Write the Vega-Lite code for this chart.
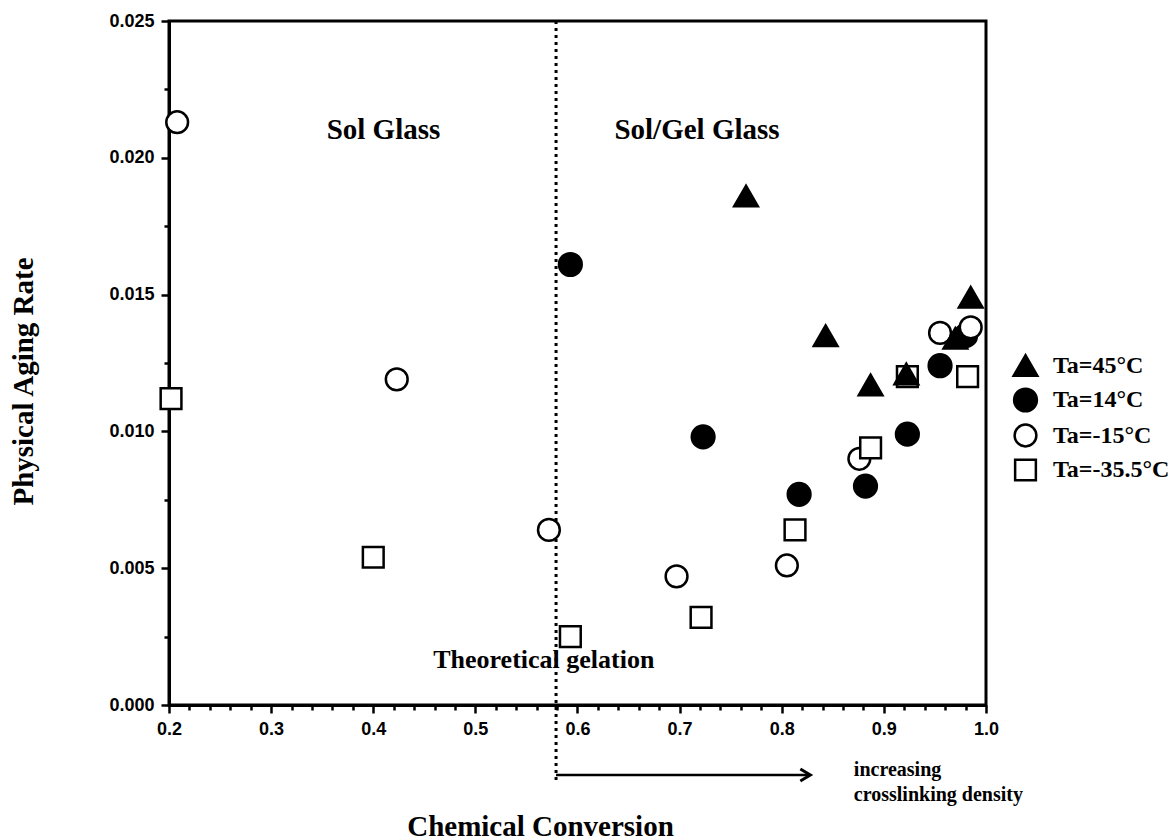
{
  "$schema": "https://vega.github.io/schema/vega-lite/v6.json",
  "width": 817,
  "height": 684,
  "autosize": {"type": "none"},
  "padding": {"left": 169, "top": 21, "right": 183, "bottom": 135},
  "background": "white",
  "config": {
    "view": {"stroke": "black", "strokeWidth": 3},
    "axis": {
      "grid": false,
      "domainColor": "black",
      "domainWidth": 3,
      "tickColor": "black",
      "tickWidth": 2.5,
      "labelColor": "black",
      "titleColor": "black",
      "labelFont": "Liberation Sans",
      "labelFontWeight": "bold",
      "labelFontSize": 18,
      "titleFont": "Liberation Serif",
      "titleFontWeight": "bold",
      "titleFontSize": 29
    }
  },
  "resolve": {"axis": {"x": "independent", "y": "independent"}},
  "datasets": {
    "measurements": [
      {"conversion": 0.593, "rate": 0.0161, "series": "Ta=14°C"},
      {"conversion": 0.723, "rate": 0.0098, "series": "Ta=14°C"},
      {"conversion": 0.817, "rate": 0.0077, "series": "Ta=14°C"},
      {"conversion": 0.882, "rate": 0.0080, "series": "Ta=14°C"},
      {"conversion": 0.923, "rate": 0.0099, "series": "Ta=14°C"},
      {"conversion": 0.955, "rate": 0.0124, "series": "Ta=14°C"},
      {"conversion": 0.980, "rate": 0.0135, "series": "Ta=14°C"},
      {"conversion": 0.208, "rate": 0.0213, "series": "Ta=-15°C"},
      {"conversion": 0.423, "rate": 0.0119, "series": "Ta=-15°C"},
      {"conversion": 0.572, "rate": 0.0064, "series": "Ta=-15°C"},
      {"conversion": 0.697, "rate": 0.0047, "series": "Ta=-15°C"},
      {"conversion": 0.805, "rate": 0.0051, "series": "Ta=-15°C"},
      {"conversion": 0.876, "rate": 0.0090, "series": "Ta=-15°C"},
      {"conversion": 0.955, "rate": 0.0136, "series": "Ta=-15°C"},
      {"conversion": 0.985, "rate": 0.0138, "series": "Ta=-15°C"},
      {"conversion": 0.202, "rate": 0.0112, "series": "Ta=-35.5°C"},
      {"conversion": 0.400, "rate": 0.0054, "series": "Ta=-35.5°C"},
      {"conversion": 0.593, "rate": 0.0025, "series": "Ta=-35.5°C"},
      {"conversion": 0.721, "rate": 0.0032, "series": "Ta=-35.5°C"},
      {"conversion": 0.813, "rate": 0.0064, "series": "Ta=-35.5°C"},
      {"conversion": 0.887, "rate": 0.0094, "series": "Ta=-35.5°C"},
      {"conversion": 0.923, "rate": 0.0120, "series": "Ta=-35.5°C"},
      {"conversion": 0.982, "rate": 0.0120, "series": "Ta=-35.5°C"},
      {"conversion": 0.765, "rate": 0.0186, "series": "Ta=45°C"},
      {"conversion": 0.843, "rate": 0.0135, "series": "Ta=45°C"},
      {"conversion": 0.887, "rate": 0.0117, "series": "Ta=45°C"},
      {"conversion": 0.922, "rate": 0.0121, "series": "Ta=45°C"},
      {"conversion": 0.970, "rate": 0.0134, "series": "Ta=45°C"},
      {"conversion": 0.985, "rate": 0.0149, "series": "Ta=45°C"}
    ],
    "gelPoint": [
      {"conversion": 0.579, "top": 0.025, "bottom": -0.0028}
    ],
    "densityArrow": [
      {"start": 0.579, "end": 0.826, "level": -0.00256}
    ],
    "arrowTip": [
      {"conversion": 0.828, "level": -0.00256}
    ],
    "regionLabels": [
      {"label": "Sol Glass", "conversion": 0.41, "rate": 0.0210},
      {"label": "Sol/Gel Glass", "conversion": 0.717, "rate": 0.0210}
    ],
    "gelLabel": [
      {"label": "Theoretical gelation", "conversion": 0.567, "rate": 0.00135}
    ],
    "densityLabel": [
      {"label": "increasing", "conversion": 0.8706, "rate": -0.0026},
      {"label": "crosslinking density", "conversion": 0.8706, "rate": -0.0035}
    ]
  },
  "layer": [
    {
      "data": {"name": "gelPoint"},
      "mark": {"type": "rule", "color": "black", "strokeWidth": 3, "strokeDash": [3, 4]},
      "encoding": {
        "x": {"field": "conversion", "type": "quantitative", "scale": {"domain": [0.2, 1.0], "nice": false, "zero": false}, "axis": null},
        "y": {"field": "top", "type": "quantitative", "scale": {"domain": [0, 0.025], "nice": false, "zero": false}, "axis": null},
        "y2": {"field": "bottom"}
      }
    },
    {
      "data": {"name": "densityArrow"},
      "mark": {"type": "rule", "color": "black", "strokeWidth": 2.5},
      "encoding": {
        "x": {"field": "start", "type": "quantitative", "scale": {"domain": [0.2, 1.0], "nice": false, "zero": false}, "axis": null},
        "x2": {"field": "end"},
        "y": {"field": "level", "type": "quantitative", "scale": {"domain": [0, 0.025], "nice": false, "zero": false}, "axis": null}
      }
    },
    {
      "data": {"name": "arrowTip"},
      "mark": {"type": "point", "shape": "M-1,-0.6L0,0L-1,0.6", "filled": false, "stroke": "black", "strokeWidth": 3, "size": 400, "opacity": 1, "strokeJoin": "miter"},
      "encoding": {
        "x": {"field": "conversion", "type": "quantitative", "scale": {"domain": [0.2, 1.0], "nice": false, "zero": false}, "axis": null},
        "y": {"field": "level", "type": "quantitative", "scale": {"domain": [0, 0.025], "nice": false, "zero": false}, "axis": null}
      }
    },
    {
      "data": {"name": "regionLabels"},
      "mark": {"type": "text", "font": "Liberation Serif", "fontWeight": "bold", "fontSize": 29, "align": "center", "baseline": "middle", "color": "black"},
      "encoding": {
        "x": {"field": "conversion", "type": "quantitative", "scale": {"domain": [0.2, 1.0], "nice": false, "zero": false}, "axis": null},
        "y": {"field": "rate", "type": "quantitative", "scale": {"domain": [0, 0.025], "nice": false, "zero": false}, "axis": null},
        "text": {"field": "label"}
      }
    },
    {
      "data": {"name": "gelLabel"},
      "mark": {"type": "text", "font": "Liberation Serif", "fontWeight": "bold", "fontSize": 26, "align": "center", "baseline": "alphabetic", "color": "black"},
      "encoding": {
        "x": {"field": "conversion", "type": "quantitative", "scale": {"domain": [0.2, 1.0], "nice": false, "zero": false}, "axis": null},
        "y": {"field": "rate", "type": "quantitative", "scale": {"domain": [0, 0.025], "nice": false, "zero": false}, "axis": null},
        "text": {"field": "label"}
      }
    },
    {
      "data": {"name": "densityLabel"},
      "mark": {"type": "text", "font": "Liberation Serif", "fontWeight": "bold", "fontSize": 20, "align": "left", "baseline": "alphabetic", "color": "black"},
      "encoding": {
        "x": {"field": "conversion", "type": "quantitative", "scale": {"domain": [0.2, 1.0], "nice": false, "zero": false}, "axis": null},
        "y": {"field": "rate", "type": "quantitative", "scale": {"domain": [0, 0.025], "nice": false, "zero": false}, "axis": null},
        "text": {"field": "label"}
      }
    },
    {
      "data": {"name": "measurements"},
      "mark": {"type": "point", "filled": true, "stroke": "black", "strokeWidth": 2.5, "opacity": 1},
      "encoding": {
        "x": {
          "field": "conversion",
          "type": "quantitative",
          "scale": {"domain": [0.2, 1.0], "nice": false, "zero": false},
          "axis": {
            "orient": "bottom",
            "values": [0.2, 0.22, 0.24, 0.26, 0.28, 0.3, 0.32, 0.34, 0.36, 0.38, 0.4, 0.42, 0.44, 0.46, 0.48, 0.5, 0.52, 0.54, 0.56, 0.58, 0.6, 0.62, 0.64, 0.66, 0.68, 0.7, 0.72, 0.74, 0.76, 0.78, 0.8, 0.82, 0.84, 0.86, 0.88, 0.9, 0.92, 0.94, 0.96, 0.98, 1.0],
            "labelExpr": "abs(datum.value * 10 - round(datum.value * 10)) < 0.001 ? format(datum.value, '.1f') : ''",
            "tickSize": {"condition": {"test": "abs(datum.value * 10 - round(datum.value * 10)) < 0.001", "value": 8}, "value": 5},
            "labelPadding": 7,
            "labelFlush": false,
            "labelOverlap": false,
            "title": "Chemical Conversion",
            "titleX": 371,
            "titleY": 130,
            "titleAlign": "center",
            "titleBaseline": "alphabetic"
          }
        },
        "y": {
          "field": "rate",
          "type": "quantitative",
          "scale": {"domain": [0, 0.025], "nice": false, "zero": false},
          "axis": {
            "orient": "left",
            "values": [0, 0.0025, 0.005, 0.0075, 0.01, 0.0125, 0.015, 0.0175, 0.02, 0.0225, 0.025],
            "labelExpr": "abs(datum.value * 200 - round(datum.value * 200)) < 0.001 ? format(datum.value, '.3f') : ''",
            "tickSize": {"condition": {"test": "abs(datum.value * 200 - round(datum.value * 200)) < 0.001", "value": 8}, "value": 5},
            "labelPadding": 7,
            "labelFlush": false,
            "labelOverlap": false,
            "title": "Physical Aging Rate",
            "titleX": -146,
            "titleY": 360,
            "titleAngle": -90,
            "titleAlign": "center",
            "titleBaseline": "middle"
          }
        },
        "shape": {
          "field": "series",
          "type": "nominal",
          "scale": {"domain": ["Ta=45°C", "Ta=14°C", "Ta=-15°C", "Ta=-35.5°C"], "range": ["triangle-up", "circle", "circle", "square"]},
          "legend": {
            "orient": "none",
            "legendX": 843,
            "legendY": 331,
            "title": null,
            "labelFont": "Liberation Serif",
            "labelFontWeight": "bold",
            "labelFontSize": 24,
            "labelColor": "black",
            "labelLimit": 300,
            "symbolStrokeColor": "black",
            "symbolStrokeWidth": 2.5,
            "symbolOpacity": 1,
            "rowPadding": 2,
            "labelOffset": 14,
            "encode": {"symbols": {"update": {"stroke": {"value": "black"}, "strokeWidth": {"value": 2.5}}}}
          }
        },
        "fill": {
          "field": "series",
          "type": "nominal",
          "scale": {"domain": ["Ta=45°C", "Ta=14°C", "Ta=-15°C", "Ta=-35.5°C"], "range": ["black", "black", "white", "white"]},
          "legend": {
            "orient": "none",
            "legendX": 843,
            "legendY": 331,
            "title": null,
            "labelFont": "Liberation Serif",
            "labelFontWeight": "bold",
            "labelFontSize": 24,
            "labelColor": "black",
            "labelLimit": 300,
            "symbolStrokeColor": "black",
            "symbolStrokeWidth": 2.5,
            "symbolOpacity": 1,
            "rowPadding": 2,
            "labelOffset": 14,
            "encode": {"symbols": {"update": {"stroke": {"value": "black"}, "strokeWidth": {"value": 2.5}}}}
          }
        },
        "size": {
          "field": "series",
          "type": "nominal",
          "scale": {"domain": ["Ta=45°C", "Ta=14°C", "Ta=-15°C", "Ta=-35.5°C"], "range": [560, 430, 400, 400]},
          "legend": {
            "orient": "none",
            "legendX": 843,
            "legendY": 331,
            "title": null,
            "labelFont": "Liberation Serif",
            "labelFontWeight": "bold",
            "labelFontSize": 24,
            "labelColor": "black",
            "labelLimit": 300,
            "symbolStrokeColor": "black",
            "symbolStrokeWidth": 2.5,
            "symbolOpacity": 1,
            "rowPadding": 2,
            "labelOffset": 14,
            "encode": {"symbols": {"update": {"stroke": {"value": "black"}, "strokeWidth": {"value": 2.5}}}}
          }
        }
      }
    }
  ]
}
